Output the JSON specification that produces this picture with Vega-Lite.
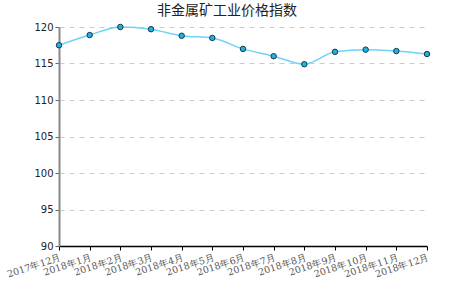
{
  "$schema": "https://vega.github.io/schema/vega-lite/v6.json",
  "width": 368,
  "height": 219,
  "autosize": {"type": "none"},
  "padding": {"left": 59, "top": 27, "right": 27, "bottom": 43},
  "background": "white",
  "title": {"text": "非金属矿工业价格指数", "fontSize": 14, "fontWeight": "normal", "font": "Noto Sans CJK SC", "color": "#222222", "offset": 8, "anchor": "middle", "dy": 4, "dx": -16},
  "config": {"view": {"stroke": null}},
  "data": {"values": [
    {"m": "2017年12月", "v": 117.5},
    {"m": "2018年1月", "v": 118.9},
    {"m": "2018年2月", "v": 120.0},
    {"m": "2018年3月", "v": 119.7},
    {"m": "2018年4月", "v": 118.8},
    {"m": "2018年5月", "v": 118.5},
    {"m": "2018年6月", "v": 117.0},
    {"m": "2018年7月", "v": 116.0},
    {"m": "2018年8月", "v": 114.9},
    {"m": "2018年9月", "v": 116.6},
    {"m": "2018年10月", "v": 116.9},
    {"m": "2018年11月", "v": 116.7},
    {"m": "2018年12月", "v": 116.3}
  ]},
  "encoding": {
    "x": {"field": "m", "type": "ordinal", "sort": null, "scale": {"type": "point", "padding": 0},
      "axis": {"title": null, "labelAngle": -18, "labelAlign": "right", "labelBaseline": "top", "labelFontSize": 9.5, "labelFont": "DejaVu Serif", "labelColor": "#555555", "domainColor": "#000000", "domainWidth": 1.5, "tickColor": "#000000", "tickSize": 4, "labelPadding": 2, "grid": false}},
    "y": {"field": "v", "type": "quantitative", "scale": {"domain": [90, 120], "nice": false, "zero": false},
      "axis": {"title": null, "values": [90, 95, 100, 105, 110, 115, 120], "labelFontSize": 10, "labelFont": "DejaVu Sans", "labelColor": "#222222", "domainColor": "#888888", "domainWidth": 2, "tickColor": "#666666", "tickSize": 4, "grid": true, "gridColor": "#cccccc", "gridDash": [5, 5], "gridWidth": 1}}
  },
  "layer": [
    {"mark": {"type": "line", "color": "#6fd3f5", "strokeWidth": 1.5, "interpolate": "monotone"}},
    {"mark": {"type": "point", "filled": true, "size": 30, "fill": "#22b0e0", "stroke": "#1a3a4a", "strokeWidth": 1, "opacity": 1}}
  ]
}
